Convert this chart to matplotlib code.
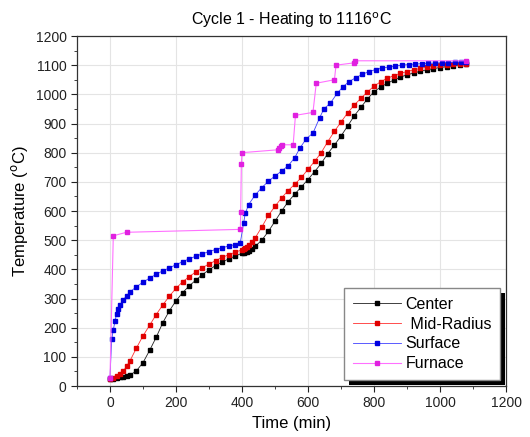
import matplotlib
matplotlib.use("Agg")
import matplotlib.pyplot as plt
from matplotlib.patches import Rectangle
from matplotlib.ticker import MultipleLocator

plt.rcParams['font.family'] = ['Liberation Sans', 'DejaVu Sans']

# ---------------- data ----------------
center_t = [0, 10, 20, 30, 40, 50, 60, 80, 100, 120, 140, 160, 180, 200, 220, 240, 260, 280,
            300, 320, 340, 360, 380, 400, 405, 410, 415, 420, 430, 440, 460, 480, 500, 520,
            540, 560, 580, 600, 620, 640, 660, 680, 700, 720, 740, 760, 780, 800, 820, 840,
            860, 880, 900, 920, 940, 960, 980, 1000, 1020, 1040, 1060, 1080]
center_T = [25, 25, 27, 30, 32, 34, 37, 52, 80, 122, 167, 217, 258, 292, 320, 343, 363, 382,
            398, 413, 425, 436, 446, 455, 457, 459, 461, 464, 470, 479, 500, 530, 565, 600,
            632, 658, 683, 708, 735, 763, 797, 826, 857, 891, 926, 955, 984, 1009, 1025, 1038,
            1049, 1059, 1067, 1073, 1079, 1084, 1088, 1092, 1095, 1098, 1101, 1103]

mid_t = [0, 10, 20, 30, 40, 50, 60, 80, 100, 120, 140, 160, 180, 200, 220, 240, 260, 280,
         300, 320, 340, 360, 380, 400, 405, 410, 415, 420, 430, 440, 460, 480, 500, 520,
         540, 560, 580, 600, 620, 640, 660, 680, 700, 720, 740, 760, 780, 800, 820, 840,
         860, 880, 900, 920, 940, 960, 980, 1000, 1020, 1040, 1060, 1080]
mid_T = [25, 28, 33, 40, 50, 68, 85, 130, 172, 208, 245, 278, 308, 335, 357, 375, 391, 406,
         418, 430, 441, 450, 459, 467, 470, 474, 478, 483, 494, 508, 545, 585, 616, 645,
         670, 692, 715, 743, 770, 800, 838, 873, 905, 936, 963, 986, 1008, 1028, 1043, 1055,
         1064, 1072, 1078, 1084, 1089, 1093, 1096, 1099, 1101, 1103, 1104, 1105]

surf_t = [0, 5, 10, 15, 20, 25, 30, 40, 50, 60, 80, 100, 120, 140, 160, 180, 200, 220, 240,
          260, 280, 300, 320, 340, 360, 380, 395, 405, 410, 420, 440, 460, 480, 500, 520,
          540, 560, 575, 595, 615, 635, 648, 668, 688, 706, 725, 745, 765, 785, 805, 825,
          845, 865, 885, 905, 925, 945, 965, 985, 1005, 1025, 1045, 1065, 1080]
surf_T = [28, 160, 192, 222, 248, 265, 278, 296, 308, 322, 340, 356, 370, 383, 395, 405, 416,
          426, 436, 445, 453, 461, 468, 474, 480, 485, 492, 560, 592, 622, 655, 680, 702, 720,
          737, 755, 783, 815, 848, 867, 919, 950, 970, 1003, 1026, 1044, 1057, 1069, 1078,
          1085, 1090, 1094, 1097, 1100, 1102, 1104, 1105, 1106, 1107, 1108, 1109, 1110,
          1110, 1111]

furn_t = [0, 10, 50, 395, 396, 398, 400, 510, 513, 517, 520, 555, 562, 615, 625, 680, 685,
          740, 742, 1080]
furn_T = [28, 515, 527, 537, 597, 760, 800, 810, 815, 822, 827, 827, 928, 938, 1038, 1050,
          1100, 1108, 1115, 1115]

labels = ["Center", " Mid-Radius", "Surface", "Furnace"]
title = "Cycle 1 - Heating to 1116$^{\\rm o}$C"

# ---------------- figure ----------------
fig = plt.figure(figsize=(5.30, 4.37), dpi=100)
ax = fig.add_axes([77/530, 1-386/437, 429/530, 350/437])

ms = 2.9
ax.plot(center_t, center_T, '-s', color='#202020', lw=0.6, ms=ms, mec='black', mfc='black',
        label=labels[0], zorder=4)
ax.plot(mid_t, mid_T, '-s', color='#ff3030', lw=0.6, ms=ms, mec='#e00000', mfc='#e00000',
        label=labels[1], zorder=4)
ax.plot(surf_t, surf_T, '-s', color='#4040ff', lw=0.6, ms=ms, mec='#0000e0', mfc='#0000e0',
        label=labels[2], zorder=4)
ax.plot(furn_t, furn_T, '-s', color='#ff70ff', lw=0.8, ms=ms, mec='#e020e0', mfc='#e020e0',
        label=labels[3], zorder=4)

ax.set_xlim(-100, 1200)
ax.set_ylim(0, 1200)
ax.xaxis.set_major_locator(MultipleLocator(200))
ax.xaxis.set_minor_locator(MultipleLocator(100))
ax.yaxis.set_major_locator(MultipleLocator(100))
ax.yaxis.set_minor_locator(MultipleLocator(50))
ax.tick_params(which='both', direction='out', top=False, right=False, labelsize=10,
               colors='#222222')
ax.tick_params(which='major', length=4, width=0.8)
ax.tick_params(which='minor', length=2.5, width=0.6)
ax.grid(True, which='major', color='#e4e4e4', lw=0.8, zorder=0)
ax.set_axisbelow(True)
for s in ax.spines.values():
    s.set_color('#333333')
    s.set_linewidth(0.9)

ax.set_xlabel("Time (min)", fontsize=12, labelpad=4)
ax.set_ylabel("Temperature ($^{\\rm o}$C)", fontsize=12, labelpad=4)
ax.set_title(title, fontsize=11.5, pad=8)

leg = ax.legend(loc='lower right', bbox_to_anchor=(0.986, 0.017), fontsize=11.5,
                frameon=True, fancybox=False, edgecolor='#888888', framealpha=1,
                numpoints=1, handlelength=3.0, handletextpad=0.3, labelspacing=0.3,
                borderpad=0.55, borderaxespad=0)
leg.set_zorder(10)

fig.canvas.draw()
bb = leg.get_frame().get_window_extent()
shadow = Rectangle((bb.x0 + 5, bb.y0 - 5), bb.width, bb.height, transform=None,
                   facecolor='black', edgecolor='none', zorder=9)
ax.add_artist(shadow)

fig.savefig("out.png", dpi=100)
